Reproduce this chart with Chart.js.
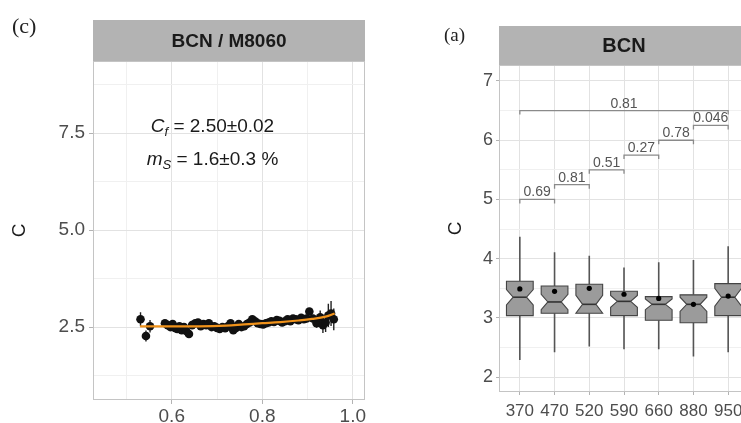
<!DOCTYPE html>
<html>
<head>
<meta charset="utf-8">
<script src="https://cdn.jsdelivr.net/npm/chart.js@4.4.1/dist/chart.umd.min.js"></script>
<style>
  html, body { margin:0; padding:0; background:#fff; overflow:hidden; width:741px; height:423px; }
  #wrapC { position:absolute; left:0; top:0; width:380px; height:435px; }
  #wrapA { position:absolute; left:440px; top:0; width:320px; height:423px; }
  .tag { position:absolute; font-family:"Liberation Serif", "Times New Roman", serif; color:#222; line-height:1; }
</style>
</head>
<body>
<div id="wrapC"><canvas id="graficaC" width="380" height="435"></canvas></div>
<div id="wrapA"><canvas id="graficaA" width="320" height="423"></canvas></div>
<div class="tag" style="left:12px; top:15px; font-size:22px;">(c)</div>
<div class="tag" style="left:444px; top:25px; font-size:19px;">(a)</div>
<script>
// panel (c): C against size ratio, with error bars and fitted curve
const ratioX = [0.531, 0.543, 0.552, 0.585, 0.591, 0.597, 0.602, 0.607, 0.612, 0.617, 0.622, 0.627, 0.632, 0.638,
  0.645, 0.652, 0.658, 0.664, 0.670, 0.676, 0.682, 0.688, 0.694, 0.700, 0.706, 0.712, 0.718, 0.724, 0.730, 0.736,
  0.742, 0.748, 0.754, 0.760, 0.766, 0.772, 0.778, 0.784, 0.790, 0.796, 0.802, 0.808, 0.814, 0.820, 0.826, 0.832,
  0.838, 0.844, 0.850, 0.856, 0.862, 0.868, 0.874, 0.880, 0.886, 0.892, 0.898, 0.904, 0.912, 0.920, 0.928, 0.934,
  0.940, 0.946, 0.952, 0.958];
const cMeasured = [2.70, 2.27, 2.52, 2.60, 2.55, 2.50, 2.58, 2.48, 2.45, 2.52, 2.42, 2.50, 2.40, 2.32,
  2.55, 2.60, 2.62, 2.52, 2.58, 2.55, 2.60, 2.50, 2.52, 2.48, 2.45, 2.50, 2.47, 2.52, 2.60, 2.42,
  2.48, 2.58, 2.50, 2.52, 2.58, 2.62, 2.70, 2.65, 2.60, 2.58, 2.57, 2.60, 2.62, 2.65, 2.63, 2.68,
  2.66, 2.62, 2.65, 2.70, 2.65, 2.72, 2.70, 2.68, 2.74, 2.70, 2.72, 2.90, 2.72, 2.60, 2.75, 2.55,
  2.62, 2.80, 2.85, 2.70];
const cError = [0.18, 0.14, 0.16, 0.06, 0.06, 0.05, 0.05, 0.05, 0.06, 0.05, 0.08, 0.05, 0.07, 0.08,
  0.05, 0.05, 0.04, 0.05, 0.05, 0.04, 0.04, 0.05, 0.04, 0.05, 0.05, 0.04, 0.04, 0.05, 0.05, 0.06,
  0.05, 0.05, 0.04, 0.05, 0.05, 0.05, 0.06, 0.05, 0.05, 0.04, 0.04, 0.05, 0.05, 0.05, 0.04, 0.05,
  0.05, 0.05, 0.05, 0.05, 0.05, 0.06, 0.05, 0.06, 0.06, 0.06, 0.06, 0.08, 0.10, 0.12, 0.18, 0.20,
  0.25, 0.30, 0.32, 0.28];
const fitX = [0.53, 0.60, 0.66, 0.72, 0.76, 0.80, 0.84, 0.88, 0.91, 0.94, 0.96];
const fitC = [2.52, 2.52, 2.52, 2.54, 2.57, 2.60, 2.63, 2.67, 2.71, 2.77, 2.85];

// panel (a): notched boxes per wavelength
const wavelengths = ['370', '470', '520', '590', '660', '880', '950'];
const whiskerLow = [2.29, 2.42, 2.52, 2.47, 2.47, 2.35, 2.42];
const boxQ1 = [3.04, 3.08, 3.08, 3.04, 2.96, 2.92, 3.04];
const boxMedian = [3.35, 3.27, 3.23, 3.28, 3.23, 3.23, 3.35];
const boxQ3 = [3.62, 3.54, 3.57, 3.45, 3.36, 3.39, 3.58];
const whiskerHigh = [4.37, 4.11, 4.05, 3.85, 3.94, 3.98, 4.21];
const boxMean = [3.49, 3.45, 3.50, 3.40, 3.33, 3.23, 3.37];
const notchHalf = [0.13, 0.13, 0.15, 0.10, 0.09, 0.12, 0.15];
const pairFrom = [0, 1, 2, 3, 4, 5, 0];
const pairTo = [1, 2, 3, 4, 5, 6, 6];
const pairY = [5.0, 5.25, 5.5, 5.75, 6.0, 6.25, 6.5];
const pairP = ['0.69', '0.81', '0.51', '0.27', '0.78', '0.046', '0.81'];

const SANS = '"Liberation Sans", Arial, sans-serif';
const gridMajor = '#e2e2e2';
const gridMinor = '#f0f0f0';

const isStep = (v, step) => Math.abs(v / step - Math.round(v / step)) < 1e-6;

// grey strip on top, panel border and rotated axis title
const facetPlugin = {
  id: 'facet',
  afterDraw(chart, args, opts) {
    const {ctx, chartArea: a} = chart;
    ctx.save();
    ctx.fillStyle = '#b3b3b3';
    ctx.fillRect(a.left, opts.top, a.right - a.left, a.top - opts.top);
    ctx.fillStyle = '#1a1a1a';
    ctx.font = opts.font;
    ctx.textAlign = 'center';
    ctx.textBaseline = 'middle';
    ctx.fillText(opts.text, (a.left + a.right) / 2, (opts.top + a.top) / 2 + 1);
    ctx.strokeStyle = '#c4c4c4';
    ctx.lineWidth = 1;
    ctx.strokeRect(a.left + 0.5, a.top + 0.5, a.right - a.left - 1, a.bottom - a.top - 1);
    ctx.translate(opts.titleX, (a.top + a.bottom) / 2);
    ctx.rotate(-Math.PI / 2);
    ctx.fillStyle = '#1a1a1a';
    ctx.font = opts.titleFont;
    ctx.fillText('C', 0, 0);
    ctx.restore();
  }
};

const errorBarPlugin = {
  id: 'errorBars',
  beforeDatasetsDraw(chart) {
    const {ctx, scales: {x, y}} = chart;
    ctx.save();
    ctx.strokeStyle = '#222';
    ctx.lineWidth = 1.4;
    ctx.beginPath();
    ratioX.forEach((r, i) => {
      const px = x.getPixelForValue(r);
      ctx.moveTo(px, y.getPixelForValue(cMeasured[i] + cError[i]));
      ctx.lineTo(px, y.getPixelForValue(cMeasured[i] - cError[i]));
    });
    ctx.stroke();
    ctx.restore();
  },
  afterDatasetsDraw(chart) {
    const {ctx, scales: {x, y}} = chart;
    const cx = x.getPixelForValue(0.69);
    const base = y.getPixelForValue(7.53);
    const rich = (parts, py) => {
      let w = 0;
      parts.forEach(p => { ctx.font = p.f; w += ctx.measureText(p.t).width; });
      let px = cx - w / 2;
      parts.forEach(p => {
        ctx.font = p.f;
        ctx.fillText(p.t, px, py + (p.dy || 0));
        px += ctx.measureText(p.t).width;
      });
    };
    ctx.save();
    ctx.fillStyle = '#1a1a1a';
    ctx.textAlign = 'left';
    ctx.textBaseline = 'alphabetic';
    rich([
      {t: 'C', f: 'italic 19px ' + SANS},
      {t: 'f', f: 'italic 13px ' + SANS, dy: 4},
      {t: ' = 2.50\u00b10.02', f: '19px ' + SANS}
    ], base);
    rich([
      {t: 'm', f: 'italic 19px ' + SANS},
      {t: 'S', f: 'italic 13px ' + SANS, dy: 4},
      {t: ' = 1.6\u00b10.3 %', f: '19px ' + SANS}
    ], base + 33);
    ctx.restore();
  }
};

const boxPlugin = {
  id: 'boxes',
  beforeDatasetsDraw(chart) {
    const {ctx, scales: {x, y}} = chart;
    ctx.save();
    wavelengths.forEach((w, i) => {
      const cx = x.getPixelForValue(i);
      const half = x.getPixelForValue(i + 0.385) - cx;
      const inner = half / 2;
      const yq3 = y.getPixelForValue(boxQ3[i]);
      const yq1 = y.getPixelForValue(boxQ1[i]);
      const ymed = y.getPixelForValue(boxMedian[i]);
      const ynu = y.getPixelForValue(boxMedian[i] + notchHalf[i]);
      const ynl = y.getPixelForValue(boxMedian[i] - notchHalf[i]);
      ctx.strokeStyle = '#555';
      ctx.lineWidth = 1.6;
      ctx.beginPath();
      ctx.moveTo(cx, y.getPixelForValue(whiskerHigh[i]));
      ctx.lineTo(cx, yq3);
      ctx.moveTo(cx, yq1);
      ctx.lineTo(cx, y.getPixelForValue(whiskerLow[i]));
      ctx.stroke();
      ctx.beginPath();
      ctx.moveTo(cx - half, yq3);
      ctx.lineTo(cx + half, yq3);
      ctx.lineTo(cx + half, ynu);
      ctx.lineTo(cx + inner, ymed);
      ctx.lineTo(cx + half, ynl);
      ctx.lineTo(cx + half, yq1);
      ctx.lineTo(cx - half, yq1);
      ctx.lineTo(cx - half, ynl);
      ctx.lineTo(cx - inner, ymed);
      ctx.lineTo(cx - half, ynu);
      ctx.closePath();
      ctx.fillStyle = '#9b9b9b';
      ctx.fill();
      ctx.strokeStyle = '#444';
      ctx.lineWidth = 1.1;
      ctx.stroke();
      ctx.strokeStyle = '#333';
      ctx.lineWidth = 1.6;
      ctx.beginPath();
      ctx.moveTo(cx - inner, ymed);
      ctx.lineTo(cx + inner, ymed);
      ctx.stroke();
    });
    ctx.restore();
  },
  afterDatasetsDraw(chart) {
    const {ctx, scales: {x, y}} = chart;
    ctx.save();
    ctx.strokeStyle = '#8a8a8a';
    ctx.lineWidth = 1.3;
    ctx.fillStyle = '#555';
    ctx.font = '14px ' + SANS;
    ctx.textAlign = 'center';
    ctx.textBaseline = 'alphabetic';
    pairY.forEach((v, i) => {
      const x1 = x.getPixelForValue(pairFrom[i]);
      const x2 = x.getPixelForValue(pairTo[i]);
      const py = y.getPixelForValue(v);
      ctx.beginPath();
      ctx.moveTo(x1, py + 4);
      ctx.lineTo(x1, py);
      ctx.lineTo(x2, py);
      ctx.lineTo(x2, py + 4);
      ctx.stroke();
      ctx.fillText(pairP[i], (x1 + x2) / 2, py - 3);
    });
    ctx.restore();
  }
};

document.addEventListener('DOMContentLoaded', () => {
  new Chart(document.getElementById('graficaC'), {
    type: 'scatter',
    data: {
      datasets: [{
        data: ratioX.map((r, i) => ({x: r, y: cMeasured[i]})),
        pointRadius: 4.3,
        pointBackgroundColor: '#111',
        pointBorderWidth: 0,
        order: 1
      }, {
        type: 'line',
        data: fitX.map((r, i) => ({x: r, y: fitC[i]})),
        borderColor: '#f0921a',
        borderWidth: 2.2,
        pointRadius: 0,
        tension: 0.4,
        fill: false,
        order: 0
      }]
    },
    options: {
      responsive: false,
      animation: false,
      devicePixelRatio: 1,
      layout: {padding: {top: 61, right: 15, left: 0, bottom: 0}},
      plugins: {
        legend: {display: false},
        tooltip: {enabled: false},
        facet: {top: 20, text: 'BCN / M8060', font: 'bold 19px ' + SANS, titleX: 20, titleFont: '19px ' + SANS}
      },
      scales: {
        x: {
          // range is deliberately not a whole number of steps so ticks land on 0.5, 0.6, ...
          type: 'linear', min: 0.426, max: 1.027,
          afterFit: s => { s.height = 35; },
          border: {display: false},
          grid: {
            color: c => isStep(c.tick.value, 0.2) ? gridMajor : gridMinor,
            tickLength: 4,
            tickColor: c => isStep(c.tick.value, 0.2) ? '#b3b3b3' : 'rgba(0,0,0,0)'
          },
          ticks: {
            stepSize: 0.1, includeBounds: false, autoSkip: false, maxRotation: 0, padding: 1,
            color: '#4d4d4d', font: {family: SANS, size: 19},
            callback: v => isStep(v, 0.2) ? v.toFixed(1) : ''
          }
        },
        y: {
          type: 'linear', min: 0.62, max: 9.36,
          afterFit: s => { s.width = 93; },
          border: {display: false},
          grid: {
            color: c => isStep(c.tick.value, 2.5) ? gridMajor : gridMinor,
            tickLength: 4,
            tickColor: c => isStep(c.tick.value, 2.5) ? '#b3b3b3' : 'rgba(0,0,0,0)'
          },
          ticks: {
            stepSize: 1.25, includeBounds: false, autoSkip: false, padding: 4,
            color: '#4d4d4d', font: {family: SANS, size: 19},
            callback: v => isStep(v, 2.5) ? v.toFixed(1) : ''
          }
        }
      }
    },
    plugins: [errorBarPlugin, facetPlugin]
  });

  new Chart(document.getElementById('graficaA'), {
    type: 'scatter',
    data: {
      datasets: [{
        data: boxMean.map((m, i) => ({x: i, y: m})),
        pointRadius: 2.6,
        pointBackgroundColor: '#000',
        pointBorderWidth: 0
      }]
    },
    options: {
      responsive: false,
      animation: false,
      devicePixelRatio: 1,
      layout: {padding: {top: 65, right: 11, left: 0, bottom: 0}},
      plugins: {
        legend: {display: false},
        tooltip: {enabled: false},
        facet: {top: 26, text: 'BCN', font: 'bold 20px ' + SANS, titleX: 16, titleFont: '19px ' + SANS}
      },
      scales: {
        x: {
          type: 'linear', min: -0.6, max: 6.6,
          afterFit: s => { s.height = 31; },
          border: {display: false},
          grid: {color: gridMajor, tickLength: 3, tickColor: '#b3b3b3'},
          ticks: {
            stepSize: 1, includeBounds: false, autoSkip: false, maxRotation: 0, padding: 6,
            color: '#4d4d4d', font: {family: SANS, size: 17},
            callback: v => wavelengths[v]
          }
        },
        y: {
          type: 'linear', min: 1.75, max: 7.27,
          afterFit: s => { s.width = 59; },
          border: {display: false},
          grid: {
            color: c => isStep(c.tick.value, 1) ? gridMajor : gridMinor,
            tickLength: 3,
            tickColor: c => isStep(c.tick.value, 1) ? '#b3b3b3' : 'rgba(0,0,0,0)'
          },
          ticks: {
            stepSize: 0.5, includeBounds: false, autoSkip: false, padding: 3,
            color: '#4d4d4d', font: {family: SANS, size: 18},
            callback: v => isStep(v, 1) ? String(v) : ''
          }
        }
      }
    },
    plugins: [boxPlugin, facetPlugin]
  });
});
</script>
</body>
</html>
